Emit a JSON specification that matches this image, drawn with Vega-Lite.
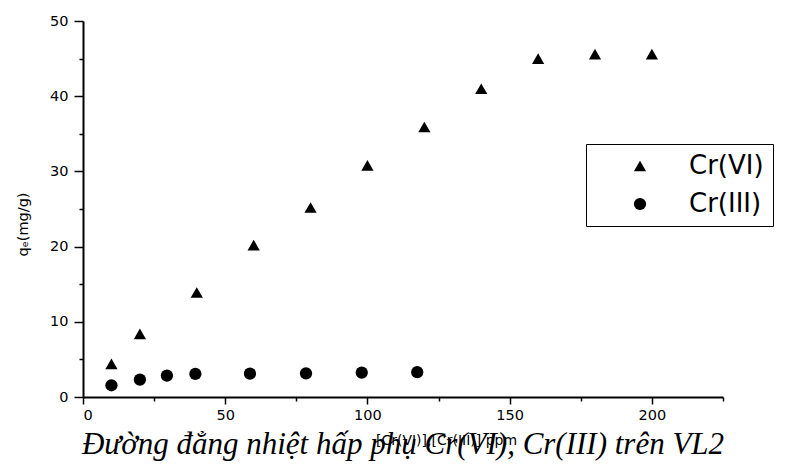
{
  "$schema": "https://vega.github.io/schema/vega-lite/v6.json",
  "autosize": {"type": "none"},
  "width": 640,
  "height": 376,
  "padding": {"left": 83, "top": 21, "right": 62, "bottom": 71},
  "background": "white",
  "config": {
    "view": {"stroke": null},
    "font": "DejaVu Sans"
  },
  "title": {
    "text": "Đường đẳng nhiệt hấp phụ Cr(VI), Cr(III) trên VL2",
    "orient": "bottom",
    "anchor": "middle",
    "font": "Liberation Serif",
    "fontStyle": "italic",
    "fontWeight": "normal",
    "fontSize": 31,
    "color": "black",
    "baseline": "alphabetic",
    "offset": 7
  },
  "data": {
    "values": [
      {"c": 10, "q": 4.4, "ion": "Cr(VI)"},
      {"c": 20, "q": 8.4, "ion": "Cr(VI)"},
      {"c": 40, "q": 13.9, "ion": "Cr(VI)"},
      {"c": 60, "q": 20.2, "ion": "Cr(VI)"},
      {"c": 80, "q": 25.2, "ion": "Cr(VI)"},
      {"c": 100, "q": 30.8, "ion": "Cr(VI)"},
      {"c": 120, "q": 35.9, "ion": "Cr(VI)"},
      {"c": 140, "q": 41.0, "ion": "Cr(VI)"},
      {"c": 160, "q": 45.0, "ion": "Cr(VI)"},
      {"c": 180, "q": 45.6, "ion": "Cr(VI)"},
      {"c": 200, "q": 45.6, "ion": "Cr(VI)"},
      {"c": 10, "q": 1.56, "ion": "Cr(III)"},
      {"c": 20, "q": 2.3, "ion": "Cr(III)"},
      {"c": 29.5, "q": 2.85, "ion": "Cr(III)"},
      {"c": 39.5, "q": 3.07, "ion": "Cr(III)"},
      {"c": 58.7, "q": 3.1, "ion": "Cr(III)"},
      {"c": 78.4, "q": 3.15, "ion": "Cr(III)"},
      {"c": 98, "q": 3.25, "ion": "Cr(III)"},
      {"c": 117.5, "q": 3.3, "ion": "Cr(III)"}
    ]
  },
  "layer": [
    {
      "mark": {"type": "point", "filled": true, "opacity": 1, "size": 150},
      "encoding": {
        "x": {
          "field": "c", "type": "quantitative",
          "scale": {"domain": [0, 225], "nice": false, "zero": true},
          "axis": {
            "orient": "bottom",
            "values": [0, 50, 100, 150, 200],
            "grid": false,
            "domainColor": "black", "domainWidth": 2,
            "tickColor": "black", "tickWidth": 1.5, "tickSize": 7,
            "labelColor": "black", "labelFontSize": 14.5, "labelPadding": 4,
            "labelFont": "DejaVu Sans",
            "title": "[Cr(VI)],[Cr(III)] ppm",
            "titleFont": "DejaVu Sans", "titleFontSize": 14, "titleFontWeight": "normal",
            "titleColor": "black",
            "titleX": 363, "titleY": 43, "titleBaseline": "middle", "titleAlign": "center"
          }
        },
        "y": {
          "field": "q", "type": "quantitative",
          "scale": {"domain": [0, 50], "nice": false},
          "axis": {
            "orient": "left",
            "values": [0, 10, 20, 30, 40, 50],
            "grid": false,
            "domainColor": "black", "domainWidth": 2,
            "tickColor": "black", "tickWidth": 1.5, "tickSize": 9,
            "labelColor": "black", "labelFontSize": 14.5, "labelPadding": 6,
            "labelFont": "DejaVu Sans",
            "title": "qₑ(mg/g)",
            "titleFont": "DejaVu Sans", "titleFontSize": 14.5, "titleFontWeight": "normal",
            "titleColor": "black",
            "titleX": -60, "titleY": 203, "titleBaseline": "middle", "titleAlign": "center", "titleAngle": -90
          }
        },
        "shape": {
          "field": "ion", "type": "nominal",
          "scale": {"domain": ["Cr(VI)", "Cr(III)"], "range": ["triangle-up", "circle"]},
          "legend": {
            "orient": "none",
            "legendX": 503,
            "legendY": 123,
            "title": null,
            "strokeColor": "black",
            "fillColor": "white",
            "padding": 9,
            "symbolOffset": 32,
            "symbolSize": 150,
            "symbolType": "circle",
            "symbolFillColor": "black",
            "symbolStrokeColor": "black",
            "symbolStrokeWidth": 0,
            "labelFont": "DejaVu Sans",
            "labelFontSize": 26,
            "labelColor": "black",
            "labelOffset": 36,
            "rowPadding": 12
          }
        },
        "color": {"value": "black"}
      }
    },
    {
      "mark": {"type": "point", "opacity": 0},
      "encoding": {
        "x": {
          "field": "c", "type": "quantitative",
          "axis": {
            "orient": "bottom",
            "values": [25, 75, 125, 175, 225],
            "labels": false, "domain": false, "grid": false,
            "tickColor": "black", "tickWidth": 1.5, "tickSize": 4,
            "title": null
          }
        },
        "y": {
          "field": "q", "type": "quantitative",
          "axis": {
            "orient": "left",
            "values": [5, 15, 25, 35, 45],
            "labels": false, "domain": false, "grid": false,
            "tickColor": "black", "tickWidth": 1.5, "tickSize": 4,
            "title": null
          }
        }
      }
    }
  ],
  "resolve": {"axis": {"x": "independent", "y": "independent"}}
}
